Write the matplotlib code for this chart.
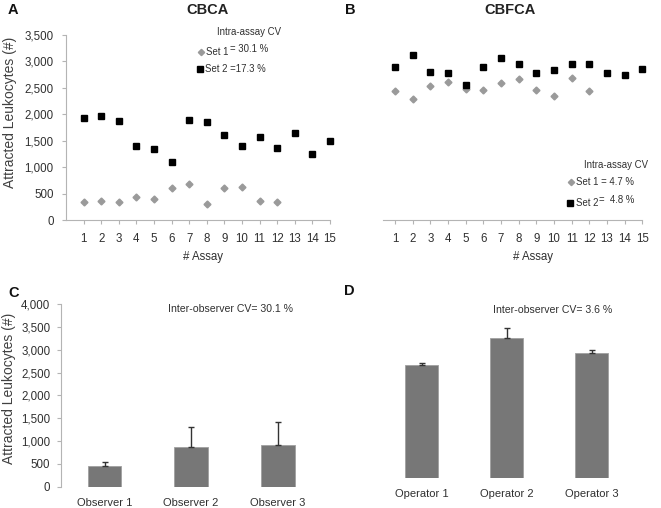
import matplotlib
matplotlib.use("Agg")
import matplotlib.pyplot as plt
from matplotlib.ticker import FuncFormatter
import numpy as np

plt.rcParams['font.family'] = ['Liberation Sans', 'DejaVu Sans']

# ---------------- data ----------------
assay_set1 = [1, 2, 3, 4, 5, 6, 7, 8, 9, 10, 11, 12]
assay_set2 = [1, 2, 3, 4, 5, 6, 7, 8, 9, 10, 11, 12, 13, 14, 15]

cbca_set1 = [350, 370, 340, 440, 410, 610, 685, 300, 605, 630, 365, 350]
cbca_set2 = [1925, 1975, 1880, 1410, 1340, 1100, 1900, 1850, 1620, 1395, 1565, 1370, 1655, 1250, 1495]

cbfca_set1 = [2450, 2300, 2535, 2610, 2485, 2460, 2595, 2660, 2470, 2340, 2690, 2440]
cbfca_set2 = [2900, 3120, 2800, 2780, 2555, 2890, 3075, 2960, 2780, 2830, 2945, 2960, 2790, 2745, 2860]

observers = ['Observer 1', 'Observer 2', 'Observer 3']
observer_mean = [450, 875, 905]
observer_err = [95, 440, 505]

operators = ['Operator 1', 'Operator 2', 'Operator 3']
operator_mean = [2645, 3270, 2920]
operator_err = [55, 232, 77]

x_ticks = list(range(1, 16))
y_ticks_ab = list(range(0, 3501, 500))
y_ticks_c = list(range(0, 4001, 500))

# ---------------- layout helpers ----------------
W, H = 661, 508
fig = plt.figure(figsize=(W / 100, H / 100), dpi=100)


def px_axes(l, t, r, b):
    return fig.add_axes([l / W, 1 - b / H, (r - l) / W, (b - t) / H])


def ftext(x, y, s, **kw):
    return fig.text(x / W, 1 - y / H, s, **kw)


TXT = '#303030'
SPINE = '#b4b4b4'
GRAY_PT = '#9a9a9a'
BAR = '#777777'
comma = FuncFormatter(lambda v, p: f'{int(v):,}')

tick_fs = 8.3


def style_scatter_axis(ax, show_y):
    for s in ['top', 'right']:
        ax.spines[s].set_visible(False)
    ax.spines['bottom'].set_color(SPINE)
    ax.spines['bottom'].set_linewidth(0.8)
    ax.tick_params(axis='x', colors=SPINE, labelcolor=TXT, labelsize=tick_fs,
                   length=3, width=0.8, pad=6)
    if show_y:
        ax.spines['left'].set_color(SPINE)
        ax.spines['left'].set_linewidth(0.8)
        ax.tick_params(axis='y', colors=SPINE, labelcolor=TXT, labelsize=tick_fs,
                       length=3, width=0.8, pad=6)
        ax.set_yticks(y_ticks_ab)
        ax.yaxis.set_major_formatter(comma)
    else:
        ax.spines['left'].set_visible(False)
        ax.set_yticks([])
    ax.set_ylim(0, 3500)
    ax.set_xticks(x_ticks)
    ax.set_xticklabels([str(t) for t in x_ticks])


# ---------------- Panel A ----------------
axA = px_axes(66, 35, 330, 220.3)
axA.plot(assay_set1, cbca_set1, linestyle='none', marker='D', ms=3.5,
         color=GRAY_PT, mec=GRAY_PT, clip_on=False)
axA.plot(assay_set2, cbca_set2, linestyle='none', marker='s', ms=4.4,
         color='black', clip_on=False)
axA.set_xlim(0, 15)
style_scatter_axis(axA, True)

# ---------------- Panel B ----------------
axB = px_axes(383.3, 35, 642.3, 220.3)
axB.plot(assay_set1, cbfca_set1, linestyle='none', marker='D', ms=3.5,
         color=GRAY_PT, mec=GRAY_PT, clip_on=False)
axB.plot(assay_set2, cbfca_set2, linestyle='none', marker='s', ms=4.4,
         color='black', clip_on=False)
axB.set_xlim(0.34, 15)
style_scatter_axis(axB, False)

# ---------------- Panel C ----------------
axC = px_axes(61.3, 304, 321, 486.7)
xc = np.arange(len(observers))
axC.bar(xc, observer_mean, width=0.39, color=BAR, edgecolor='#a0a0a0', linewidth=0.6,
        yerr=[np.zeros(len(observer_err)), observer_err],
        error_kw=dict(ecolor='#333333', elinewidth=1.0, capsize=2.2, capthick=1.0))
axC.set_xlim(-0.5, 2.5)
axC.set_ylim(0, 4000)
for s in ['top', 'right', 'bottom']:
    axC.spines[s].set_visible(False)
axC.spines['left'].set_color(SPINE)
axC.spines['left'].set_linewidth(0.8)
axC.set_yticks(y_ticks_c)
axC.yaxis.set_major_formatter(comma)
axC.tick_params(axis='y', colors=SPINE, labelcolor=TXT, labelsize=tick_fs,
                length=3, width=0.8, pad=5)
axC.set_xticks(xc)
axC.set_xticklabels(observers)
axC.tick_params(axis='x', length=0, labelcolor=TXT, labelsize=8.0, pad=8)

# ---------------- Panel D ----------------
axD = px_axes(379, 307, 634, 478.3)
xd = np.arange(len(operators))
axD.bar(xd, operator_mean, width=0.39, color=BAR, edgecolor='#a0a0a0', linewidth=0.6,
        yerr=[np.zeros(len(operator_err)), operator_err],
        error_kw=dict(ecolor='#333333', elinewidth=1.0, capsize=2.2, capthick=1.0))
axD.set_xlim(-0.5, 2.5)
axD.set_ylim(0, 4000)
for s in ['top', 'right', 'bottom', 'left']:
    axD.spines[s].set_visible(False)
axD.set_yticks([])
axD.set_xticks(xd)
axD.set_xticklabels(operators)
axD.tick_params(axis='x', length=0, labelcolor=TXT, labelsize=8.0, pad=8)

# ---------------- texts ----------------
ftext(8, 10, 'A', fontsize=10.5, fontweight='bold', color='#111111', va='center', ha='left')
ftext(345, 10, 'B', fontsize=10.5, fontweight='bold', color='#111111', va='center', ha='left')
ftext(8, 293, 'C', fontsize=10.5, fontweight='bold', color='#111111', va='center', ha='left')
ftext(344, 291, 'D', fontsize=10.5, fontweight='bold', color='#111111', va='center', ha='left')

ftext(207.5, 10, 'CBCA', fontsize=10.5, fontweight='bold', color='#222222', ha='center', va='center')
ftext(510, 10, 'CBFCA', fontsize=10.5, fontweight='bold', color='#222222', ha='center', va='center')

ftext(10, 112, 'Attracted Leukocytes (#)', rotation=90, fontsize=10, color='#404040',
      ha='center', va='center')
ftext(9, 388, 'Attracted Leukocytes (#)', rotation=90, fontsize=10, color='#404040',
      ha='center', va='center')

ftext(203, 257, '# Assay', fontsize=8.3, color=TXT, ha='center', va='center')
ftext(533, 257, '# Assay', fontsize=8.3, color=TXT, ha='center', va='center')

# legend A
lfs = 6.9
ftext(217, 32, 'Intra-assay CV', fontsize=lfs, color=TXT, ha='left', va='center')
fig.add_artist(plt.Line2D([201 / W], [1 - 51.7 / H], marker='D', ms=3.2, color=GRAY_PT,
                          linestyle='none', transform=fig.transFigure))
ftext(206, 52, 'Set 1', fontsize=lfs, color=TXT, ha='left', va='center')
ftext(230, 49.5, '= 30.1 %', fontsize=lfs, color=TXT, ha='left', va='center')
fig.add_artist(plt.Line2D([200 / W], [1 - 69.3 / H], marker='s', ms=4.2, color='black',
                          linestyle='none', transform=fig.transFigure))
ftext(205, 69.5, 'Set 2 =17.3 %', fontsize=lfs, color=TXT, ha='left', va='center')

# legend B
ftext(584, 164.5, 'Intra-assay CV', fontsize=lfs, color=TXT, ha='left', va='center')
fig.add_artist(plt.Line2D([570.7 / W], [1 - 181.7 / H], marker='D', ms=3.2, color=GRAY_PT,
                          linestyle='none', transform=fig.transFigure))
ftext(576.5, 182, 'Set 1 = 4.7 %', fontsize=lfs, color=TXT, ha='left', va='center')
fig.add_artist(plt.Line2D([570 / W], [1 - 203.3 / H], marker='s', ms=4.2, color='black',
                          linestyle='none', transform=fig.transFigure))
ftext(576, 203.5, 'Set 2', fontsize=lfs, color=TXT, ha='left', va='center')
ftext(599, 200, '=  4.8 %', fontsize=lfs, color=TXT, ha='left', va='center')

# inter-observer texts
ftext(230, 309, 'Inter-observer CV= 30.1 %', fontsize=7.6, color=TXT, ha='center', va='center')
ftext(553, 310, 'Inter-observer CV= 3.6 %', fontsize=7.6, color=TXT, ha='center', va='center')

fig.savefig('out.png', dpi=100)
